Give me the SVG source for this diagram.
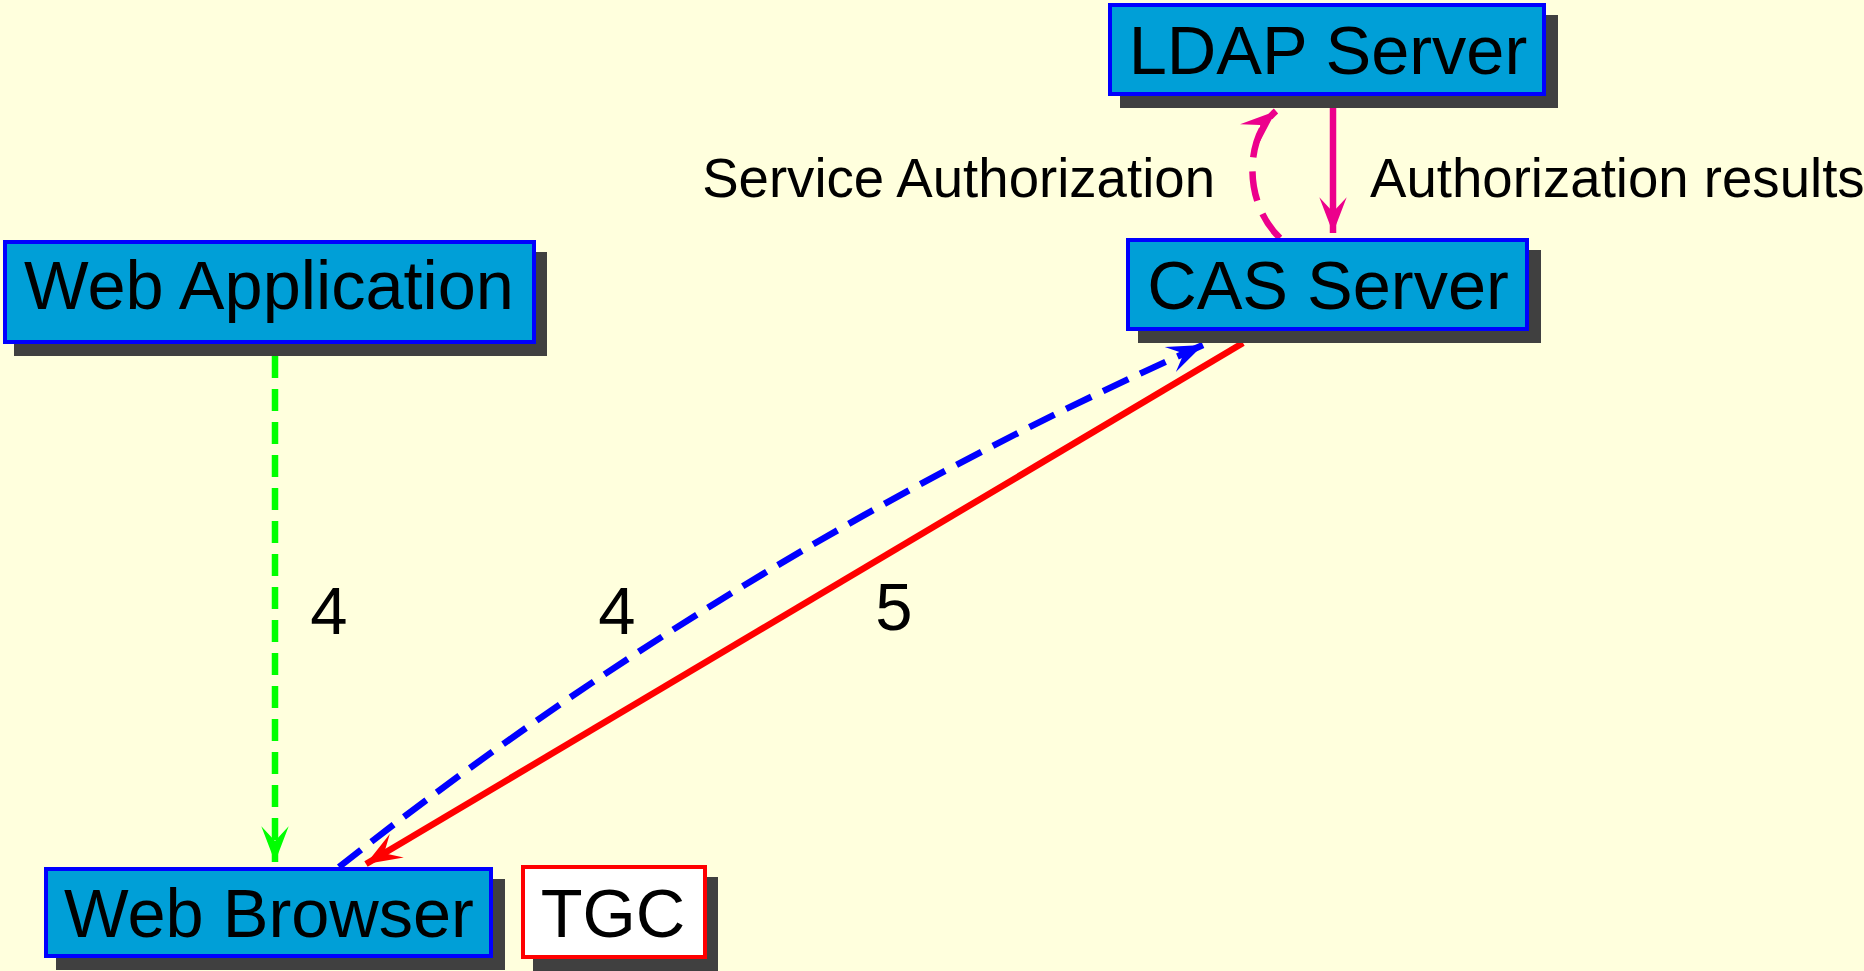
<svg xmlns="http://www.w3.org/2000/svg" width="1864" height="971" viewBox="0 0 1864 971">
  <style>
    .bg { fill: #ffffdd; }
    .shadow { fill: #404040; }
    .box { fill: #009fd7; stroke: #0000ff; stroke-width: 4; }
    .tgc { fill: #ffffff; stroke: #ff0000; stroke-width: 4; }
    .node-text { font-family: "Liberation Sans", Arial, sans-serif; font-size: 68.5px; fill: #000000; text-anchor: middle; }
    .label { font-family: "Liberation Sans", Arial, sans-serif; font-size: 54.6px; fill: #000000; }
    .num { font-family: "Liberation Sans", Arial, sans-serif; font-size: 67px; fill: #000000; text-anchor: middle; }
    .edge { fill: none; stroke-width: 6.5; }
  </style>
  <defs>
    <marker id="arrow-green" markerUnits="userSpaceOnUse" markerWidth="40" markerHeight="32" viewBox="-36 -15 38 30" refX="0" refY="0" orient="auto">
      <path d="M0,0 L-34,-13 L-20,0 L-34,13 Z" fill="#00ff00"/>
    </marker>
    <marker id="arrow-blue" markerUnits="userSpaceOnUse" markerWidth="40" markerHeight="32" viewBox="-36 -15 38 30" refX="0" refY="0" orient="auto">
      <path d="M0,0 L-34,-13 L-20,0 L-34,13 Z" fill="#0000ff"/>
    </marker>
    <marker id="arrow-red" markerUnits="userSpaceOnUse" markerWidth="40" markerHeight="32" viewBox="-36 -15 38 30" refX="0" refY="0" orient="auto">
      <path d="M0,0 L-34,-13 L-20,0 L-34,13 Z" fill="#ff0000"/>
    </marker>
    <marker id="arrow-pink" markerUnits="userSpaceOnUse" markerWidth="40" markerHeight="32" viewBox="-36 -15 38 30" refX="0" refY="0" orient="auto">
      <path d="M0,0 L-34,-13 L-20,0 L-34,13 Z" fill="#ec008c"/>
    </marker>
  </defs>

  <rect class="bg" x="0" y="0" width="1864" height="971"/>

  <!-- connectors -->
  <g id="connectors">
    <path class="edge" d="M275,356 L275,862" stroke="#00ff00" stroke-dasharray="22 11" marker-end="url(#arrow-green)"/>
    <path class="edge" d="M339,867 Q740,551 1203,345" stroke="#0000ff" stroke-dasharray="28 13" marker-end="url(#arrow-blue)"/>
    <path class="edge" d="M1243,343 L366,864" stroke="#ff0000" marker-end="url(#arrow-red)"/>
    <path class="edge" d="M1280,238 C1245,205 1243,140 1276,111" stroke="#ec008c" stroke-dasharray="30 14" marker-end="url(#arrow-pink)"/>
    <path class="edge" d="M1333,108 L1333,233" stroke="#ec008c" marker-end="url(#arrow-pink)"/>
  </g>

  <!-- edge labels -->
  <g id="edge-labels">
    <text class="label" x="1215" y="197" text-anchor="end">Service Authorization</text>
    <text class="label" x="1370" y="197">Authorization results</text>
    <text class="num" x="329" y="634">4</text>
    <text class="num" x="617" y="634">4</text>
    <text class="num" x="894" y="630">5</text>
  </g>

  <!-- nodes -->
  <g id="ldap-server">
    <rect class="shadow" x="1120" y="15" width="438" height="93"/>
    <rect class="box" x="1110" y="5" width="434" height="89"/>
    <text class="node-text" x="1328" y="74">LDAP Server</text>
  </g>

  <g id="cas-server">
    <rect class="shadow" x="1138" y="250" width="403" height="93"/>
    <rect class="box" x="1128" y="240" width="399" height="89"/>
    <text class="node-text" x="1328" y="309">CAS Server</text>
  </g>

  <g id="web-application">
    <rect class="shadow" x="14" y="252" width="533" height="104"/>
    <rect class="box" x="5" y="242" width="529" height="100"/>
    <text class="node-text" x="269" y="309">Web Application</text>
  </g>

  <g id="web-browser">
    <rect class="shadow" x="56" y="879" width="449" height="91"/>
    <rect class="box" x="46" y="869" width="445" height="87"/>
    <text class="node-text" x="269" y="937">Web Browser</text>
  </g>

  <g id="tgc">
    <rect class="shadow" x="533" y="877" width="185" height="94"/>
    <rect class="tgc" x="523" y="867" width="182" height="90"/>
    <text class="node-text" x="613" y="937">TGC</text>
  </g>
</svg>
